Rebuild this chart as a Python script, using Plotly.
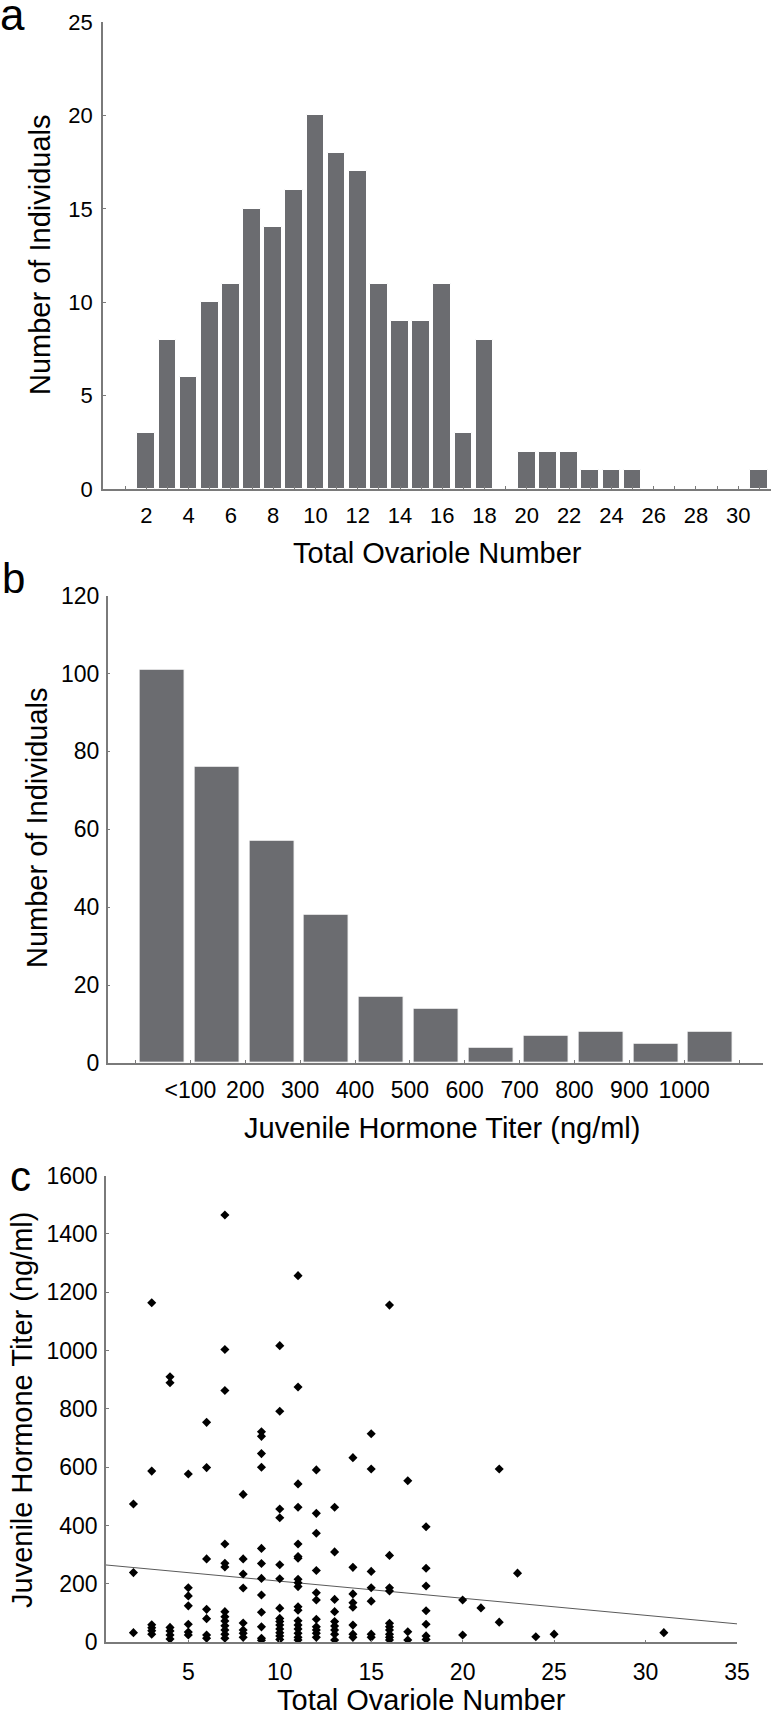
import plotly.graph_objects as go

# ---------------- Data ----------------
# Panel a: ovariole number histogram
ovariole_bins = list(range(2, 32))
ovariole_counts = [3, 8, 6, 10, 11, 15, 14, 16, 20, 18, 17, 11, 9, 9, 11, 3, 8, 0,
                   2, 2, 2, 1, 1, 1, 0, 0, 0, 0, 0, 1]
ovariole_ticks = list(range(1, 32))

# Panel b: JH titer histogram (bins of 100 ng/ml)
jh_bin_left = [0, 100, 200, 300, 400, 500, 600, 700, 800, 900, 1000]
jh_counts = [101, 76, 57, 38, 17, 14, 4, 7, 8, 5, 8]
jh_tick_vals = [0, 100, 200, 300, 400, 500, 600, 700, 800, 900, 1000, 1100]
jh_tick_text = ["", "<100", "200", "300", "400", "500", "600", "700", "800", "900", "1000", ""]

# Panel c: scatter, ovariole number vs JH titer
scatter_by_ovariole = {
    2: [474, 239, 33],
    3: [1164, 587, 60, 50, 40, 28],
    4: [910, 890, 51, 39, 25, 11],
    5: [577, 187, 159, 125, 62, 35, 25],
    6: [754, 599, 286, 113, 81, 25, 14],
    7: [1465, 1004, 863, 337, 271, 258, 105, 88, 73, 57, 42, 28, 14],
    8: [507, 286, 234, 186, 66, 42, 31, 17],
    9: [722, 706, 647, 600, 322, 270, 219, 162, 103, 53, 14, 7],
    10: [1017, 792, 457, 427, 266, 218, 117, 82, 71, 59, 46, 33, 22, 10],
    11: [1257, 875, 543, 463, 337, 294, 288, 216, 204, 191, 122, 110, 74, 59, 46, 31, 17, 8],
    12: [591, 442, 374, 246, 170, 145, 79, 53, 42, 31, 17],
    13: [463, 310, 147, 105, 71, 56, 42, 28, 8],
    14: [633, 257, 166, 136, 120, 59, 28, 17],
    15: [715, 594, 243, 187, 141, 28, 17],
    16: [1156, 298, 187, 176, 65, 53, 42, 28, 17, 8],
    17: [554, 36, 8],
    18: [396, 254, 193, 108, 62, 22, 10],
    20: [145, 25],
    21: [118],
    22: [594, 69],
    23: [237],
    24: [19],
    25: [28],
    31: [33],
}
scatter_x = [k for k, vals in scatter_by_ovariole.items() for _ in vals]
scatter_y = [v for vals in scatter_by_ovariole.values() for v in vals]

# Regression line
fit_intercept = 268.0
fit_slope = -5.85
fit_x = [0.5, 35]
fit_y = [fit_intercept + fit_slope * x for x in fit_x]

# ---------------- Figure ----------------
W, H = 774, 1717
FONT = "Liberation Sans, Arial, Helvetica, sans-serif"
BAR = "#6b6c70"
AX = "#7a7a7a"


def px_x(p):
    return p / W


def px_y(p):
    return 1 - p / H


fig = go.Figure()

fig.add_trace(go.Bar(x=ovariole_bins, y=ovariole_counts, width=0.84,
                     marker=dict(color=BAR, line=dict(color="white", width=1)),
                     xaxis="x", yaxis="y", showlegend=False))

fig.add_trace(go.Bar(x=[b + 48 for b in jh_bin_left], y=jh_counts, width=82,
                     marker=dict(color=BAR, line=dict(color="white", width=1)),
                     xaxis="x2", yaxis="y2", showlegend=False))

fig.add_trace(go.Scatter(x=fit_x, y=fit_y, mode="lines",
                         line=dict(color="#5a5a5a", width=1),
                         xaxis="x3", yaxis="y3", showlegend=False))
fig.add_trace(go.Scatter(x=scatter_x, y=scatter_y, mode="markers",
                         marker=dict(symbol="diamond", size=7, color="black"),
                         xaxis="x3", yaxis="y3", showlegend=False))


def axis(size, **kw):
    d = dict(showgrid=False, zeroline=False, showline=True, linecolor=AX,
             linewidth=1.5, ticks="inside", ticklen=3, tickcolor=AX,
             automargin=False, fixedrange=True,
             tickfont=dict(family=FONT, size=size, color="black"))
    d.update(kw)
    return d


fig.update_layout(
    template="none",
    width=W, height=H, margin=dict(l=0, r=0, t=0, b=0, pad=0, autoexpand=False),
    paper_bgcolor="white", plot_bgcolor="white", bargap=0,
    font=dict(family=FONT, color="black"),
    xaxis=axis(22, domain=[px_x(103), px_x(771)], range=[-0.05, 31.55],
               tickvals=ovariole_ticks,
               ticktext=[str(v) if v % 2 == 0 else "" for v in ovariole_ticks],
               anchor="y", ticklabelstandoff=6),
    yaxis=axis(22, domain=[px_y(489), px_y(22)], range=[0, 25],
               tickvals=[0, 5, 10, 15, 20, 25], anchor="x", ticklabelstandoff=4),
    xaxis2=axis(23, domain=[px_x(107.6), px_x(762.6)], range=[-51, 1143],
                tickvals=jh_tick_vals, ticktext=jh_tick_text, anchor="y2",
                ticklabelstandoff=6),
    yaxis2=axis(23, domain=[px_y(1062.9), px_y(595.7)], range=[0, 120],
                tickvals=[0, 20, 40, 60, 80, 100, 120], anchor="x2",
                ticklabelstandoff=2),
    xaxis3=axis(23, domain=[px_x(106), px_x(737)], range=[0.5, 35],
                tickvals=[5, 10, 15, 20, 25, 30, 35], anchor="y3",
                ticklabelstandoff=8),
    yaxis3=axis(23, domain=[px_y(1642.3), px_y(1175.6)], range=[0, 1600],
                tickvals=list(range(0, 1601, 200)), anchor="x3",
                ticklabelstandoff=2),
)

TITLE = 29
ann = []


def add_text(text, x, y, size, angle=0):
    ann.append(dict(text=text, x=px_x(x), y=px_y(y), xref="paper", yref="paper",
                    showarrow=False, textangle=angle, xanchor="center",
                    yanchor="middle", font=dict(family=FONT, size=size, color="black")))


add_text("Total Ovariole Number", 437, 553, TITLE)
add_text("Number of Individuals", 40, 255, TITLE, -90)
add_text("Juvenile Hormone Titer (ng/ml)", 442, 1128, TITLE)
add_text("Number of Individuals", 37, 828, TITLE, -90)
add_text("Total Ovariole Number", 421, 1700, TITLE)
add_text("Juvenile Hormone Titer (ng/ml)", 22, 1410, TITLE, -90)
add_text("a", 12, 14, 44)
add_text("b", 13, 578, 42)
add_text("c", 20, 1176, 42)
fig.update_layout(annotations=ann)

fig.write_html("out.html", config={"displayModeBar": False},
               post_script="document.body.style.margin='0px';"
                           "document.body.style.padding='0px';")
